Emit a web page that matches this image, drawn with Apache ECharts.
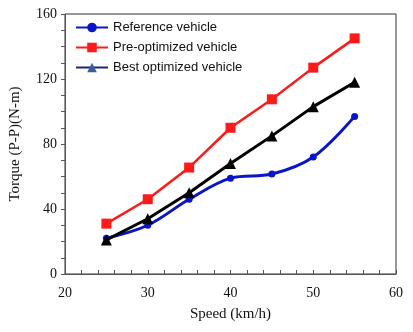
<!DOCTYPE html>
<html>
<head>
<meta charset="utf-8">
<script src="https://cdn.jsdelivr.net/npm/echarts@6/dist/echarts.min.js"></script>
<style>
  html, body { margin: 0; padding: 0; background: #fff; }
  #chart { width: 413px; height: 332px; }
</style>
</head>
<body>
<div id="chart"></div>
<script>
const speeds = [25, 30, 35, 40, 45, 50, 55]
const referenceVehicle = [22, 30, 46, 59, 61.5, 72, 97]
const preOptimized = [31, 46, 65.5, 90, 107.5, 127, 145]
const bestOptimized = [21, 34, 50, 68, 85, 103, 118]
const seriesNames = ['Reference vehicle', 'Pre-optimized vehicle', 'Best optimized vehicle']

const toPairs = (vals) => speeds.map((s, i) => [s, vals[i]])

const chart = echarts.init(document.getElementById('chart'))

const serif = 'Liberation Serif'

const option = {
  animation: false,
  grid: {
    left: 64,
    right: 17,
    top: 14,
    bottom: 58,
    show: true,
    borderColor: '#333',
    borderWidth: 1
  },
  legend: {
    orient: 'vertical',
    left: 70,
    top: 16,
    itemWidth: 32,
    itemHeight: 12,
    itemGap: 7,
    textStyle: { color: '#111', fontSize: 13, fontFamily: 'Liberation Sans' },
    data: [
      { name: seriesNames[0] },
      { name: seriesNames[1] },
      {
        name: seriesNames[2],
        itemStyle: { color: '#3d5a9e' },
        lineStyle: { color: '#1a237e', width: 2 }
      }
    ]
  },
  xAxis: {
    type: 'value',
    min: 20,
    max: 60,
    interval: 10,
    name: 'Speed (km/h)',
    nameLocation: 'middle',
    nameGap: 33,
    nameTextStyle: { color: '#111', fontSize: 15, fontFamily: serif },
    axisLine: { lineStyle: { color: '#555' } },
    axisTick: { inside: true, length: 4, lineStyle: { color: '#555' } },
    minorTick: { show: true, splitNumber: 5, length: 4, lineStyle: { color: '#555' } },
    axisLabel: { color: '#111', fontSize: 14, fontFamily: serif, margin: 12 },
    splitLine: { show: false }
  },
  yAxis: {
    type: 'value',
    min: 0,
    max: 160,
    interval: 40,
    name: 'Torque (P-P)(N-m)',
    nameLocation: 'middle',
    nameGap: 42,
    nameTextStyle: { color: '#111', fontSize: 15, fontFamily: serif },
    axisLine: { show: true, lineStyle: { color: '#555' } },
    axisTick: { show: true, length: 4, lineStyle: { color: '#555' } },
    minorTick: { show: true, splitNumber: 4, length: 4, lineStyle: { color: '#555' } },
    axisLabel: { color: '#111', fontSize: 14, fontFamily: serif, margin: 8 },
    splitLine: { show: false }
  },
  series: [
    {
      name: seriesNames[0],
      type: 'line',
      smooth: 0.35,
      data: toPairs(referenceVehicle),
      symbol: 'circle',
      symbolSize: 7,
      lineStyle: { color: '#0a14c8', width: 3 },
      itemStyle: { color: '#0a14c8' },
      z: 2
    },
    {
      name: seriesNames[1],
      type: 'line',
      data: toPairs(preOptimized),
      symbol: 'rect',
      symbolSize: 10,
      lineStyle: { color: '#ff1a1a', width: 2.5 },
      itemStyle: { color: '#ff1a1a' },
      z: 3
    },
    {
      name: seriesNames[2],
      type: 'line',
      data: toPairs(bestOptimized),
      symbol: 'triangle',
      symbolSize: 11,
      lineStyle: { color: '#000', width: 3 },
      itemStyle: { color: '#000' },
      z: 4
    }
  ]
}

chart.setOption(option)
</script>
</body>
</html>
